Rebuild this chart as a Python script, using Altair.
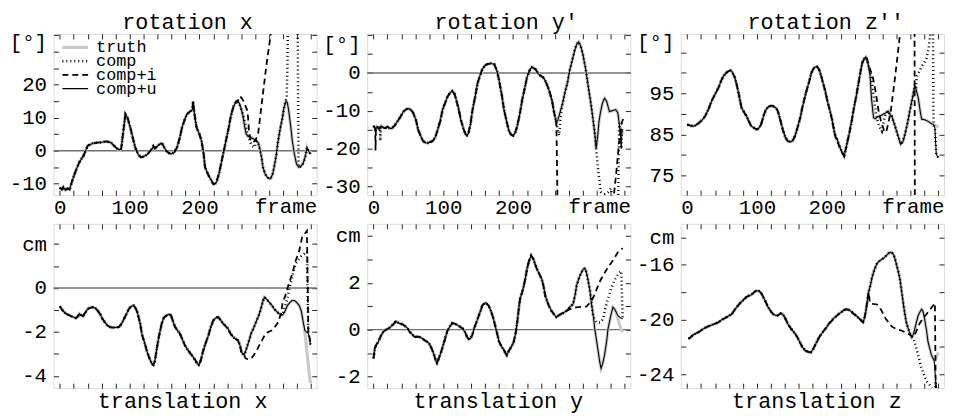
import altair as alt
import pandas as pd

FONT = "Liberation Mono"
SERIES = ["truth", "comp", "comp+i", "comp+u"]
SERIES_COLORS = ["#cacaca", "black", "black", "black"]
SERIES_DASH = [[1, 0], [1, 3], [6, 4], [1, 0]]
SERIES_WIDTH = [3.2, 1.1, 1.1, 1.25]

X_DOMAIN = [-9, 368]
X_TICKS = list(range(0, 361, 20))
X_LABELS = [0, 100, 200]
ZERO_LINE = [0.0]

# ---------------- rotation x ----------------
rx_f = [0, 3, 5, 8, 11, 14, 18, 23, 28, 34, 40, 47, 53, 59, 66, 73, 80, 85, 88, 91, 94, 97, 101, 105, 108,
        112, 116, 120, 125, 130, 133, 134, 136, 142, 145, 147, 150, 153, 157, 160, 164, 168, 172, 175, 179,
        182, 186, 189, 190, 191, 192, 194, 196, 200, 203, 206, 208, 211, 213, 217, 220, 224, 228, 231, 235,
        238, 242, 245, 249, 253, 257, 260, 262, 265, 267, 271, 274, 278, 281, 284, 286, 289, 291, 294, 297,
        300, 302, 305, 307, 310, 312, 314, 316, 319, 321, 324, 326, 328, 331, 333, 336, 339, 342, 345, 348,
        350, 352, 354, 356, 359]
rx_u = [-11.2, -11.8, -11.0, -12.0, -11.5, -11.8, -9.0, -6.0, -3.5, -1.5, 1.5, 2.2, 2.4, 2.5, 2.8, 2.5, 1.0,
        0.2, 0.6, 6.0, 11.0, 10.0, 7.0, 3.5, 1.0, -1.0, -2.0, -1.8, -1.2, 0.0, 0.8, 1.3, 0.6, 1.8, 2.2, 2.0,
        0.8, -0.2, -0.8, -1.0, -0.5, 1.0, 4.0, 7.0, 9.5, 11.0, 11.8, 12.2, 12.5, 15.0, 12.5, 9.5, 7.0, 5.0,
        3.0, -1.0, -5.0, -6.5, -7.5, -9.0, -10.2, -9.8, -7.0, -4.0, 0.0, 3.0, 7.0, 10.5, 13.5, 15.0, 14.5,
        12.5, 11.0, 7.0, 5.0, 4.2, 4.0, 3.5, 3.0, 2.5, 1.0, -2.0, -5.0, -7.0, -8.0, -8.5, -8.5, -7.0, -5.0,
        -1.5, 2.0, 4.5, 7.0, 10.0, 13.0, 15.0, 14.5, 12.0, 7.0, 3.0, -1.0, -4.0, -5.0, -4.8, -4.0, -3.0,
        -1.5, 1.0, 0.0, -1.0]
rx_comp_a_f = [262, 266, 270, 275, 279, 282]
rx_comp_a_v = [11.0, 8.0, 4.0, 1.5, 1.0, 2.8]
rx_comp_b_f = [319, 322, 325, 326, 327, 340]
rx_comp_b_v = [10.0, 14.0, 16.0, 25.0, 45.0, 60.0]
rx_compi_f = [255, 258, 262, 266, 269, 271, 273, 276, 280, 284, 288, 292, 296, 300, 304, 310, 360]
rx_compi_v = [15.0, 16.5, 15.5, 13.5, 12.0, 6.0, 3.5, 2.5, 3.0, 5.0, 12.0, 19.0, 26.0, 32.0, 38.0, 55.0, 80.0]

# ---------------- rotation y' ----------------
ry_f = [0, 2, 3, 5, 8, 11, 14, 17, 20, 23, 26, 30, 33, 38, 43, 47, 50, 54, 57, 61, 64, 68, 71, 75, 78, 82, 85,
        89, 92, 96, 99, 103, 106, 110, 113, 116, 118, 122, 125, 129, 132, 134, 136, 139, 142, 146, 149, 153,
        156, 160, 163, 168, 173, 177, 180, 184, 187, 191, 194, 197, 200, 203, 206, 210, 213, 217, 220, 224,
        227, 229, 232, 236, 239, 243, 246, 250, 253, 256, 258, 260, 262, 264, 267, 271, 274, 278, 281, 285,
        288, 291, 294, 297, 300, 304, 307, 311, 314, 317, 319, 321, 323, 325, 328, 331, 334, 338, 342, 347,
        350, 352, 354, 355, 356, 358]
ry_u = [-14.0, -14.5, -15.0, -14.2, -14.8, -14.0, -14.5, -14.6, -14.2, -14.6, -14.7, -14.0, -13.2, -11.8,
        -10.2, -9.6, -9.4, -9.8, -10.6, -12.5, -15.0, -16.8, -18.0, -18.5, -18.5, -18.2, -18.0, -16.8, -15.0,
        -12.5, -9.7, -7.8, -6.3, -5.2, -4.8, -5.5, -6.7, -9.5, -12.3, -14.8, -16.2, -16.5, -16.0, -13.5, -9.7,
        -6.0, -2.8, -0.5, 1.0, 2.0, 2.3, 2.5, 2.3, 0.5, -2.0, -6.0, -9.7, -13.0, -15.3, -16.3, -16.6, -15.8,
        -14.0, -10.5, -7.2, -3.8, -1.1, 0.8, 1.5, 1.3, 1.0, -0.2, -0.7, -1.2, -2.0, -3.8, -5.4, -7.5, -9.7,
        -11.5, -13.2, -12.5, -10.6, -8.0, -5.4, -2.5, 0.6, 3.5, 5.8, 7.5, 8.2, 7.0, 4.9, 1.0, -2.8, -7.5,
        -11.5, -16.0, -20.0, -17.0, -13.0, -10.6, -8.0, -6.7, -7.5, -10.2, -10.0, -9.7, -10.5, -13.2, -17.0,
        -20.0, -15.0, -15.0]
ry_truth_f = [353, 355, 358]
ry_truth_v = [-14.0, -15.5, -16.2]
ry_comp_a_f = [9.5, 10, 10.5]
ry_comp_a_v = [-14.3, -18.0, -14.2]
ry_comp_b_f = [262, 264, 266, 268]
ry_comp_b_v = [-13.2, -15.0, -16.5, -12.0]
ry_comp_c_f = [319, 322, 326, 331, 336, 340, 343, 350]
ry_comp_c_v = [-20.0, -26.0, -31.5, -32.0, -31.5, -30.5, -34.0, -40.0]
ry_compi_a_f = [2.5, 3, 3.5]
ry_compi_a_v = [-14.8, -20.5, -14.5]
ry_compi_b_f = [262, 263, 264, 340, 344, 348, 352, 356, 359]
ry_compi_b_v = [-13.2, -25.0, -40.0, -40.0, -33.0, -26.0, -18.0, -13.0, -11.5]

# ---------------- rotation z'' ----------------
rz_f = [0, 4, 9, 13, 17, 22, 26, 31, 35, 40, 45, 49, 52, 56, 59, 62, 64, 68, 71, 75, 78, 82, 85, 89, 92, 96,
        99, 102, 106, 110, 113, 117, 121, 123, 127, 130, 134, 137, 141, 144, 148, 151, 155, 158, 162, 165,
        170, 175, 178, 182, 186, 189, 192, 194, 198, 201, 205, 208, 211, 213, 215, 217, 221, 225, 228, 232,
        236, 239, 243, 246, 249, 251, 254, 256, 258, 260, 262, 264, 267, 270, 272, 276, 281, 285, 288, 290,
        293, 297, 300, 303, 306, 309, 312, 316, 319, 323, 326, 328, 331, 334, 336, 340, 343, 347, 350, 353,
        355, 356, 357, 360]
rz_u = [87.4, 87.2, 87.0, 87.3, 87.8, 88.6, 89.5, 91.3, 93.1, 94.8, 96.4, 98.2, 99.2, 100.0, 100.4, 100.6,
        100.4, 99.0, 97.2, 94.0, 91.5, 90.3, 89.5, 88.0, 87.0, 86.6, 86.2, 86.4, 87.4, 89.8, 91.1, 91.8, 92.0,
        91.9, 91.5, 90.7, 88.2, 86.2, 84.2, 83.4, 83.2, 83.4, 84.8, 86.6, 89.0, 91.5, 95.0, 98.0, 100.0,
        101.3, 101.5, 100.9, 99.3, 98.0, 95.5, 93.1, 90.5, 88.3, 85.5, 84.2, 83.8, 82.6, 81.0, 79.7, 82.0,
        85.0, 88.5, 91.5, 95.0, 98.0, 100.8, 102.5, 103.5, 103.9, 103.2, 101.5, 99.6, 94.0, 89.1, 88.8, 89.2,
        89.5, 89.9, 90.3, 90.7, 90.0, 89.5, 87.5, 85.8, 84.2, 82.6, 83.2, 85.0, 88.0, 90.7, 94.0, 96.8, 96.0,
        94.0, 90.5, 88.7, 88.6, 88.4, 88.0, 87.6, 87.4, 86.6, 83.0, 80.1, 79.3]
rz_truth_f = [355, 358, 360]
rz_truth_v = [87.2, 87.0, 86.8]
rz_comp_a_f = [262, 265, 268, 271, 275, 279, 282]
rz_comp_a_v = [100.5, 97.5, 93.5, 89.5, 87.0, 85.8, 88.5]
rz_comp_b_f = [329, 333, 336, 340, 343, 346, 348, 352]
rz_comp_b_v = [99.2, 100.5, 101.6, 102.5, 103.6, 106.0, 109.0, 115.0]
rz_compi_f = [262, 266, 270, 274, 278, 282, 285, 288, 292, 296, 300, 304, 308, 325.5, 326.5, 360]
rz_compi_v = [101.0, 99.0, 95.5, 91.0, 88.0, 86.0, 85.5, 87.5, 91.0, 96.4, 102.0, 108.0, 115.0, 140.0, 40.0, 40.0]

# ---------------- translation x ----------------
tx_f = [0, 4, 8, 12, 16, 19, 23, 26, 28, 31, 33, 37, 40, 44, 47, 51, 54, 58, 61, 65, 68, 72, 75, 80, 85, 89,
        92, 96, 99, 103, 106, 109, 111, 115, 118, 122, 125, 129, 132, 134, 136, 139, 142, 146, 149, 153, 156,
        159, 162, 165, 169, 172, 175, 179, 183, 187, 190, 194, 197, 199, 202, 205, 209, 213, 216, 220, 224,
        227, 230, 234, 237, 241, 244, 248, 251, 255, 258, 260, 262, 264, 266, 269, 272, 274, 278, 281, 285,
        288, 291, 293, 296, 300, 304, 307, 311, 314, 317, 319, 322, 326, 330, 333, 336, 339, 343, 346, 347,
        349, 351, 353, 356, 358, 359]
tx_u = [-0.83, -1.02, -1.15, -1.22, -1.28, -1.32, -1.37, -1.30, -1.17, -1.25, -1.28, -1.10, -0.95, -0.90,
        -0.87, -0.92, -1.02, -1.20, -1.40, -1.58, -1.70, -1.78, -1.80, -1.80, -1.77, -1.60, -1.40, -1.15,
        -0.95, -0.82, -0.80, -0.95, -1.10, -1.60, -2.15, -2.55, -2.90, -3.25, -3.45, -3.50, -3.35, -2.75,
        -2.20, -1.62, -1.35, -1.25, -1.20, -1.22, -1.50, -1.77, -1.95, -2.07, -2.30, -2.60, -2.80, -2.98,
        -3.10, -3.28, -3.45, -3.50, -3.30, -2.90, -2.50, -2.15, -1.80, -1.47, -1.35, -1.32, -1.45, -1.62,
        -1.72, -1.85, -2.05, -2.22, -2.30, -2.38, -2.60, -2.90, -3.00, -3.05, -2.90, -2.60, -2.30, -2.07,
        -1.80, -1.55, -1.25, -0.95, -0.60, -0.42, -0.50, -0.65, -0.80, -0.95, -1.08, -1.17, -1.22, -1.23,
        -1.10, -0.80, -0.65, -0.57, -0.57, -0.65, -0.80, -1.05, -1.25, -1.60, -1.92, -2.00, -2.07, -2.30,
        -2.60]
tx_truth_f = [349, 351, 353, 355, 357, 359]
tx_truth_v = [-1.60, -2.00, -2.60, -3.20, -3.80, -4.33]
tx_comp_f = [319, 322, 326, 329, 333, 336, 338, 342, 346, 350, 354]
tx_comp_v = [-1.23, -0.90, -0.48, 0.00, 0.50, 0.90, 1.10, 1.30, 1.45, 1.55, 1.63]
tx_compi_f = [264, 266, 270, 274, 278, 282, 286, 290, 295, 305, 312, 317, 319, 324, 328, 333, 338, 343, 347, 354]
tx_compi_v = [-3.05, -3.20, -3.25, -3.22, -3.05, -2.85, -2.59, -2.36, -2.06, -1.91, -1.60, -1.16, -0.71,
              -0.26, 0.19, 0.65, 1.25, 1.70, 2.30, 2.60]

# ---------------- translation y ----------------
ty_f = [0, 2, 4, 7, 10, 14, 17, 21, 24, 26, 29, 32, 35, 38, 42, 45, 49, 52, 56, 59, 63, 66, 70, 73, 77, 80,
        84, 87, 89, 91, 94, 97, 101, 104, 106, 109, 113, 117, 121, 125, 128, 131, 134, 137, 139, 142, 144,
        148, 151, 154, 156, 159, 161, 165, 168, 171, 173, 177, 180, 184, 187, 189, 191, 194, 196, 199, 201,
        204, 206, 208, 210, 213, 215, 218, 220, 223, 226, 229, 231, 234, 238, 241, 244, 246, 249, 251, 255,
        258, 262, 266, 270, 274, 277, 281, 286, 289, 291, 295, 298, 301, 303, 305, 307, 310, 312, 315, 317,
        320, 322, 324, 326, 328, 331, 334, 336, 340, 343, 346, 350, 354, 357]
ty_u = [-1.23, -0.80, -0.65, -0.52, -0.30, -0.10, -0.02, 0.04, 0.10, 0.16, 0.25, 0.35, 0.30, 0.26, 0.22, 0.16,
        0.05, -0.10, -0.22, -0.31, -0.30, -0.31, -0.38, -0.45, -0.52, -0.60, -0.85, -1.09, -1.30, -1.42,
        -1.20, -0.95, -0.55, -0.24, -0.05, 0.11, 0.28, 0.25, 0.18, 0.10, 0.04, -0.10, -0.31, -0.42, -0.38,
        -0.20, 0.04, 0.35, 0.61, 0.85, 1.04, 1.12, 1.15, 1.02, 0.82, 0.55, 0.33, -0.15, -0.52, -0.75, -0.88,
        -1.00, -1.09, -0.90, -0.81, -0.65, -0.52, -0.10, 0.33, 0.85, 1.32, 1.60, 1.82, 2.25, 2.60, 2.95, 3.16,
        3.02, 2.85, 2.60, 2.35, 2.17, 1.80, 1.46, 1.20, 1.04, 0.80, 0.68, 0.54, 0.62, 0.68, 0.75, 0.82, 0.95,
        1.10, 1.50, 1.89, 2.25, 2.45, 2.60, 2.62, 2.45, 2.17, 1.70, 1.18, 0.55, 0.04, -0.55, -0.95, -1.35,
        -1.66, -1.50, -1.09, -0.50, 0.04, 0.60, 0.96, 0.85, 0.61, 0.50, 0.47]
ty_truth_f = [346, 350, 353, 356, 358]
ty_truth_v = [0.85, 0.50, 0.15, -0.05, -0.10]
ty_comp_f = [315, 320, 325, 329, 332, 336, 340, 345, 349, 352, 355]
ty_comp_v = [0.55, 0.30, 0.30, 0.47, 0.90, 1.32, 1.70, 2.10, 2.30, 2.43, 2.50]
ty_compi_f = [262, 270, 280, 286, 293, 300, 305, 310, 314, 318, 321, 325, 329, 336, 343, 350, 357]
ty_compi_v = [0.54, 0.70, 0.85, 0.93, 0.96, 0.98, 0.98, 1.15, 1.32, 1.60, 1.82, 2.10, 2.31, 2.67, 2.95, 3.30,
              3.48]

# ---------------- translation z ----------------
tz_f = [2, 5, 9, 13, 17, 21, 26, 30, 35, 40, 45, 50, 54, 59, 64, 68, 71, 75, 78, 82, 85, 89, 92, 96, 99, 102,
        104, 107, 109, 113, 116, 120, 123, 127, 130, 134, 137, 141, 144, 148, 151, 155, 158, 162, 165, 169,
        173, 177, 180, 182, 186, 189, 193, 196, 200, 203, 207, 210, 214, 217, 221, 225, 228, 232, 236, 239,
        243, 246, 249, 252, 254, 256, 258, 260, 263, 265, 268, 272, 275, 279, 283, 286, 289, 291, 294, 296,
        298, 300, 303, 305, 308, 310, 312, 314, 317, 319, 322, 324, 326, 329, 331, 334, 336, 338, 340, 343,
        345, 348, 350, 353, 354, 356, 357]
tz_u = [-21.4, -21.3, -21.1, -21.0, -20.9, -20.75, -20.6, -20.5, -20.4, -20.3, -20.2, -20.0, -19.9, -19.75,
        -19.6, -19.3, -19.1, -18.85, -18.7, -18.5, -18.35, -18.25, -18.2, -18.0, -17.9, -17.9, -17.95, -18.15,
        -18.35, -18.75, -19.1, -19.4, -19.6, -19.7, -19.7, -19.55, -19.6, -19.95, -20.3, -20.6, -20.8,
        -21.05, -21.3, -21.7, -22.0, -22.25, -22.35, -22.4, -22.2, -22.0, -21.6, -21.3, -21.0, -20.8, -20.55,
        -20.3, -20.1, -19.9, -19.75, -19.6, -19.45, -19.3, -19.25, -19.3, -19.45, -19.6, -19.75, -19.9,
        -20.05, -20.2, -19.9, -19.4, -18.7, -18.0, -17.4, -16.9, -16.4, -15.9, -15.75, -15.6, -15.45, -15.3,
        -15.15, -15.1, -15.15, -15.3, -15.6, -16.0, -16.6, -17.1, -18.2, -18.95, -19.6, -20.2, -20.7, -21.0,
        -21.3, -21.1, -20.7, -20.1, -19.7, -19.4, -19.25, -19.4, -19.9, -20.8, -21.6, -22.2, -22.6, -22.9,
        -23.0, -24.5, -25.3]
tz_truth_f = [354, 356, 358, 360]
tz_truth_v = [-23.0, -22.9, -22.6, -22.4]
tz_comp_f = [322, 326, 331, 336, 343, 348, 355]
tz_comp_v = [-21.3, -21.6, -22.6, -23.6, -24.5, -24.8, -25.5]
tz_compi_f = [260, 262, 266, 272, 278, 284, 293, 300, 307, 313, 319, 324, 328, 333, 338, 343, 349, 355]
tz_compi_v = [-18.0, -18.8, -18.85, -18.9, -19.3, -19.9, -20.5, -20.7, -20.8, -20.95, -21.1, -21.3, -20.9,
              -20.3, -19.9, -19.6, -19.2, -18.8]


def build_df(base_f, base_v, overrides):
    rows = []
    for s in SERIES:
        pts = list(zip(base_f, base_v))
        for of, ov in overrides.get(s, []):
            lo, hi = min(of), max(of)
            pts = [p for p in pts if p[0] < lo or p[0] > hi] + list(zip(of, ov))
        pts.sort()
        for f, v in pts:
            rows.append({"series": s, "frame": f, "value": v})
    return pd.DataFrame(rows)


def label_expr(vals):
    arr = "[" + ",".join(str(v) for v in vals) + "]"
    return "indexof(%s, datum.value) >= 0 ? '' + datum.value : ''" % arr


TITLE_STYLE = dict(titleFont=FONT, titleFontSize=22, titleFontWeight="normal", titleColor="black",
                   titleAlign="center", titleBaseline="alphabetic", titleAngle=0)
AX = dict(domain=False, grid=False, tickSize=5, offset=-5, tickColor="#222", tickWidth=1,
          minExtent=0, labelFont=FONT, labelFontSize=21, labelColor="black", labelOverlap=False,
          labelFlush=False)

COLOR = alt.Color("series:N", scale=alt.Scale(domain=SERIES, range=SERIES_COLORS), legend=None)
DASH = alt.StrokeDash("series:N", scale=alt.Scale(domain=SERIES, range=SERIES_DASH), legend=None)
WIDTH = alt.StrokeWidth("series:N", scale=alt.Scale(domain=SERIES, range=SERIES_WIDTH), legend=None)


def make_panel(df, title, title_x, top_row, ydom, yticks, ylabels, unit, unit_y, height, zero, legend):
    xs = alt.Scale(domain=X_DOMAIN, nice=False, zero=False)
    ys = alt.Scale(domain=ydom, nice=False, zero=False)
    if top_row:
        x_main = alt.Axis(orient="bottom", values=X_TICKS, labelExpr=label_expr(X_LABELS), labelPadding=2,
                          title="frame", titleFont=FONT, titleFontSize=21, titleFontWeight="normal",
                          titleColor="black", titleAlign="right", titleBaseline="alphabetic",
                          titleX=266, titleY=23, **AX)
        x_top = alt.Axis(orient="top", values=X_TICKS, labels=False, title=title, titleX=title_x,
                         titleY=-10, **TITLE_STYLE, **AX)
    else:
        x_main = alt.Axis(orient="bottom", values=X_TICKS, labels=False, title=title, titleX=title_x,
                          titleY=25, **TITLE_STYLE, **AX)
        x_top = alt.Axis(orient="top", values=X_TICKS, labels=False, title=None, **AX)
    y_main = alt.Axis(orient="left", values=yticks, labelExpr=label_expr(ylabels), labelPadding=7,
                      title=unit, titleAngle=0, titleAlign="right", titleBaseline="middle",
                      titleX=-12, titleY=unit_y, titleFont=FONT, titleFontSize=21, titleFontWeight="normal",
                      titleColor="black", **AX)
    y_right = alt.Axis(orient="right", values=yticks, labels=False, title=None, **AX)

    layers = []
    if zero:
        layers.append(
            alt.Chart(pd.DataFrame({"z": ZERO_LINE})).mark_rule(color="#707070", strokeWidth=1.5).encode(
                y=alt.Y("z:Q", scale=ys, axis=None)
            )
        )
    for i, s in enumerate(SERIES):
        if i == 0:
            xa, ya = x_main, y_main
        elif i == 1:
            xa, ya = x_top, y_right
        else:
            xa, ya = None, None
        layers.append(
            alt.Chart(df).transform_filter(alt.datum.series == s).mark_line(clip=True).encode(
                x=alt.X("frame:Q", scale=xs, axis=xa),
                y=alt.Y("value:Q", scale=ys, axis=ya),
                order=alt.Order("frame:Q"),
                color=COLOR, strokeDash=DASH, strokeWidth=WIDTH,
            )
        )
    if legend:
        leg_df = pd.DataFrame({"series": SERIES})
        leg_y = alt.Y("series:N", scale=alt.Scale(type="point", domain=SERIES, range=[13.7, 55.3], padding=0),
                      axis=None)
        layers.append(
            alt.Chart(leg_df).mark_rule().encode(
                x=alt.value(9), x2=alt.value(35), y=leg_y, color=COLOR, strokeDash=DASH, strokeWidth=WIDTH
            )
        )
        layers.append(
            alt.Chart(leg_df).mark_text(align="left", baseline="middle", font=FONT, fontSize=17,
                                        color="black").encode(
                x=alt.value(43), y=leg_y, text="series:N"
            )
        )
    ch = alt.layer(*layers).resolve_axis(x="independent", y="independent")
    if legend:
        ch = ch.resolve_scale(y="independent")
    return ch.properties(width=266, height=height)


df_rx = build_df(rx_f, rx_u, {
    "comp": [(rx_comp_a_f, rx_comp_a_v), (rx_comp_b_f, rx_comp_b_v)],
    "comp+i": [(rx_compi_f, rx_compi_v)],
})
df_ry = build_df(ry_f, ry_u, {
    "truth": [(ry_truth_f, ry_truth_v)],
    "comp": [(ry_comp_a_f, ry_comp_a_v), (ry_comp_b_f, ry_comp_b_v), (ry_comp_c_f, ry_comp_c_v)],
    "comp+i": [(ry_compi_a_f, ry_compi_a_v), (ry_compi_b_f, ry_compi_b_v)],
})
df_rz = build_df(rz_f, rz_u, {
    "truth": [(rz_truth_f, rz_truth_v)],
    "comp": [(rz_comp_a_f, rz_comp_a_v), (rz_comp_b_f, rz_comp_b_v)],
    "comp+i": [(rz_compi_f, rz_compi_v)],
})
df_tx = build_df(tx_f, tx_u, {
    "truth": [(tx_truth_f, tx_truth_v)],
    "comp": [(tx_comp_f, tx_comp_v)],
    "comp+i": [(tx_compi_f, tx_compi_v)],
})
df_ty = build_df(ty_f, ty_u, {
    "truth": [(ty_truth_f, ty_truth_v)],
    "comp": [(ty_comp_f, ty_comp_v)],
    "comp+i": [(ty_compi_f, ty_compi_v)],
})
df_tz = build_df(tz_f, tz_u, {
    "truth": [(tz_truth_f, tz_truth_v)],
    "comp": [(tz_comp_f, tz_comp_v)],
    "comp+i": [(tz_compi_f, tz_compi_v)],
})

p1 = make_panel(df_rx, "rotation x", 135, True, [-13.5, 35.4], list(range(-10, 36, 5)), [-10, 0, 10, 20],
                "[°]", 9, 163, True, True)
p2 = make_panel(df_ry, "rotation y'", 140, True, [-32.3, 10.3], list(range(-30, 11, 5)), [-30, -20, -10, 0],
                "[°]", 11, 163, True, False)
p3 = make_panel(df_rz, "rotation z''", 146, True, [70.2, 109.5], list(range(75, 106, 5)), [75, 85, 95],
                "[°]", 9, 163, False, False)
p4 = make_panel(df_tx, "translation x", 130, False, [-4.56, 2.92], list(range(-4, 3)), [-4, -2, 0],
                "cm", 21, 166, True, False)
p5 = make_panel(df_ty, "translation y", 132, False, [-2.5, 4.52], list(range(-2, 5)), [-2, 0, 2],
                "cm", 12, 166, True, False)
p6 = make_panel(df_tz, "translation z", 137, False, [-25.0, -13.02], list(range(-24, -13, 2)), [-24, -20, -16],
                "cm", 14, 166, False, False)

chart = alt.concat(
    p1, p2, p3, p4, p5, p6, columns=3, spacing={"row": 29, "column": 51}, bounds="flush"
).properties(
    padding={"left": 0, "top": 0, "right": 0, "bottom": 0}
).configure_view(
    stroke="#555555", strokeWidth=1.3
).configure(background="white")

chart.save("out.html", embed_options={"renderer": "svg", "actions": False})
